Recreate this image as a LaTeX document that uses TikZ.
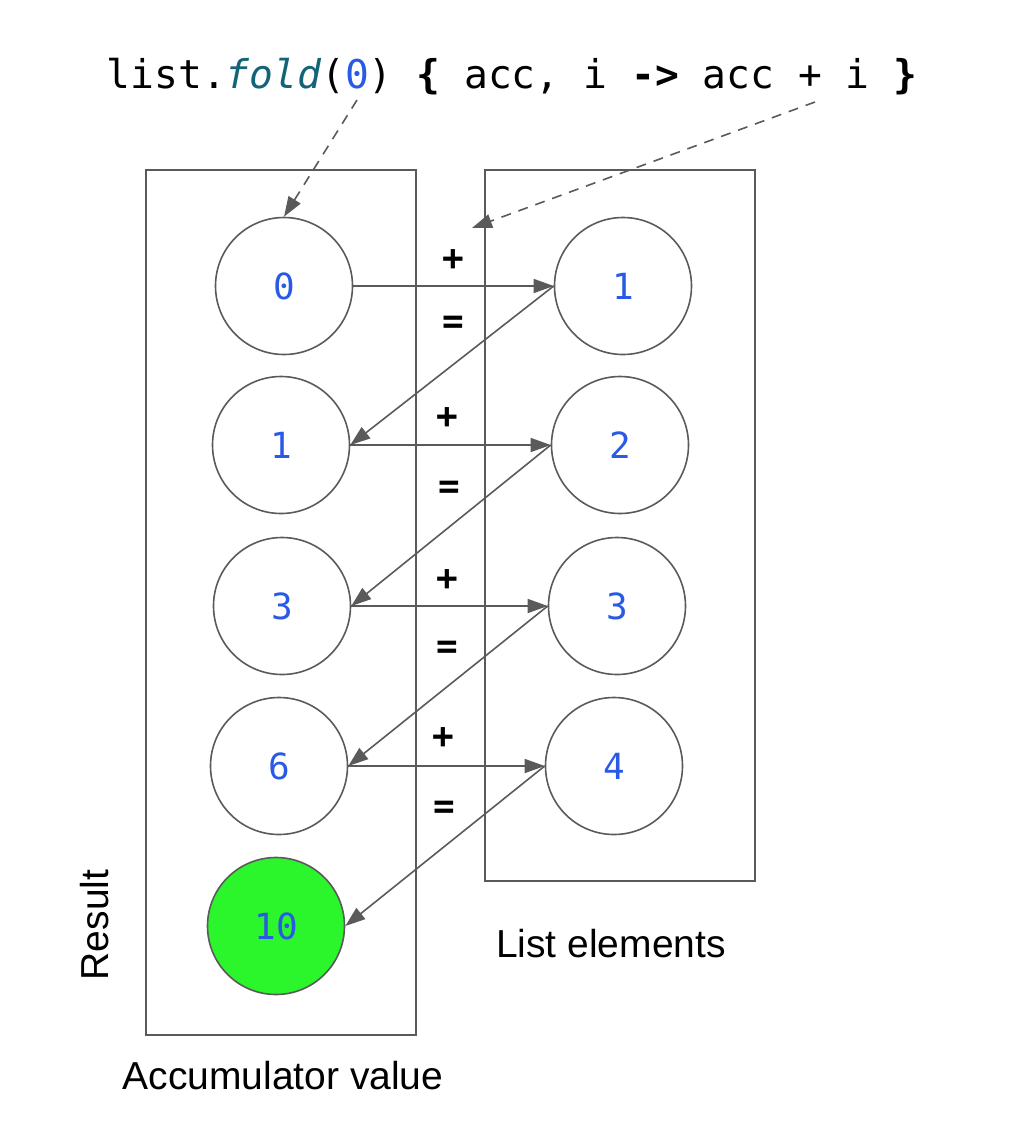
\documentclass[tikz,border=0pt]{standalone}
\usepackage{fontspec}
\setmainfont{Liberation Sans}
\setmonofont{DejaVu Sans Mono}
\usetikzlibrary{arrows.meta}
\definecolor{ln}{RGB}{90,90,90}
\definecolor{digit}{RGB}{40,90,230}
\definecolor{teal}{RGB}{20,100,120}
\definecolor{res}{RGB}{43,245,43}
\begin{document}
\begin{tikzpicture}[x=0.5pt,y=-0.5pt,
  val/.style={circle,draw=ln,line width=0.8pt,minimum size=68.5pt,inner sep=0pt,
    font=\fontsize{18}{20}\selectfont\ttfamily,text=digit},
  op/.style={font=\fontsize{18}{20}\selectfont\ttfamily\bfseries,text=black},
  lab/.style={font=\fontsize{19.5}{22}\selectfont},
  arr/.style={draw=ln,line width=0.8pt,-{Triangle[length=10pt,width=7pt]}},
  darr/.style={arr,dashed,dash pattern=on 5pt off 4pt}]
\useasboundingbox (0,0) rectangle (1024,1126);
% frames
\draw[ln,line width=1pt] (146,170) rectangle (416,1035);
\draw[ln,line width=1pt] (485,170) rectangle (755,881);
% code
\node[anchor=base,inner sep=0pt,font=\fontsize{19.8}{22}\selectfont\ttfamily] (code) at (512,88)
  {list.\textcolor{teal}{\itshape fold}(\textcolor{digit}{0}) \textbf{\{} acc, i \textbf{->} acc + i \textbf{\}}};
\coordinate (c0) at (357,100);
\coordinate (cf) at (815,102);
% circles
\node[val] (l0) at (284,286) {0};
\node[val] (l1) at (281,445) {1};
\node[val] (l2) at (282,606) {3};
\node[val] (l3) at (279,766) {6};
\node[val,fill=res] (l4) at (276,926) {10};
\node[val] (r0) at (623,286) {1};
\node[val] (r1) at (620,445) {2};
\node[val] (r2) at (617,606) {3};
\node[val] (r3) at (614,766) {4};
\coordinate (fn) at (472,228);
% operators
\node[op] (p0) at (453,260) {+};
\node[op] (e0) at (453,325) {=};
\node[op] (p1) at (447,418) {+};
\node[op] (e1) at (449,490) {=};
\node[op] (p2) at (447,580) {+};
\node[op] (e2) at (447,650) {=};
\node[op] (p3) at (443,738) {+};
\node[op] (e3) at (444,810) {=};
% arrows
\draw[arr] (l0.east) -- (r0.west);
\draw[arr] (l1.east) -- (r1.west);
\draw[arr] (l2.east) -- (r2.west);
\draw[arr] (l3.east) -- (r3.west);
\draw[arr] (r0.west) -- (l1.east);
\draw[arr] (r1.west) -- (l2.east);
\draw[arr] (r2.west) -- (l3.east);
\draw[arr] (r3.west) -- (l4.east);
\draw[darr] (c0) -- (l0.north);
\draw[darr] (cf) -- (fn);
% labels
\node[lab,rotate=90] (result) at (95,925) {Result};
\node[lab] (acc) at (283,1076) {Accumulator value};
\node[lab] (list) at (611,944) {List elements};
\end{tikzpicture}
\end{document}
